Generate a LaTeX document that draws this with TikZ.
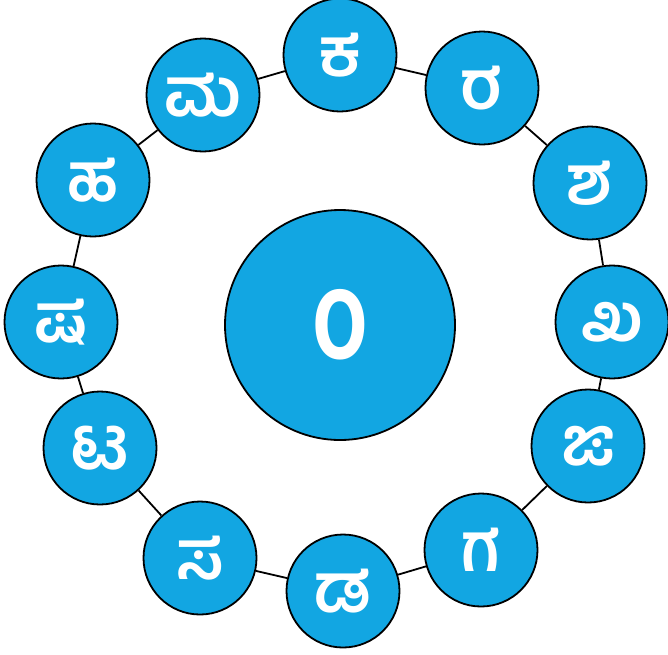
\documentclass[tikz,border=0pt]{standalone}
\usepackage{fontspec}
\newfontfamily\kn[Script=Kannada]{Hind Mysuru}
\definecolor{disc}{RGB}{18,166,226}
\begin{document}
\begin{tikzpicture}[x=1pt,y=-1pt,
  letter/.style={circle,draw=black,line width=1.8pt,fill=disc,minimum size=113pt,inner sep=0pt,text=white,font=\kn\bfseries\fontsize{68}{68}\selectfont},
  hub/.style={circle,draw=black,line width=1.8pt,fill=disc,minimum size=230pt,inner sep=0pt,text=white,font=\kn\bfseries\fontsize{100}{100}\selectfont},
  link/.style={line width=1.8pt,draw=black}]
\useasboundingbox (0,0) rectangle (668,654);
\node[hub] (c) at (340,325) {\scalebox{1.0}[1.2]{೦}};
\node[letter] (n1) at (340,55) {ಕ};
\node[letter] (n2) at (482,88) {ರ};
\node[letter] (n3) at (590,183) {ಶ};
\node[letter] (n4) at (612,322) {ಖ};
\node[letter] (n5) at (588,446) {ಙ};
\node[letter] (n6) at (481,550) {ಗ};
\node[letter] (n7) at (343,591) {ಡ};
\node[letter] (n8) at (200,558) {ಸ};
\node[letter] (n9) at (100,448) {ಟ};
\node[letter] (n10) at (61,322) {ಷ};
\node[letter] (n11) at (93,180) {ಹ};
\node[letter] (n12) at (203,95) {ಮ};
\draw[link] (n1)--(n2) (n2)--(n3) (n3)--(n4) (n4)--(n5) (n5)--(n6) (n6)--(n7)
  (n7)--(n8) (n8)--(n9) (n9)--(n10) (n10)--(n11) (n11)--(n12) (n12)--(n1);
\end{tikzpicture}
\end{document}
